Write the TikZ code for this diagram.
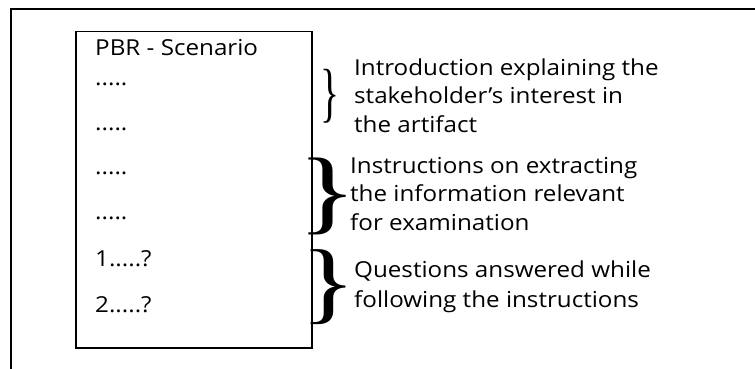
\documentclass[tikz,border=0pt]{standalone}
\usepackage{fontspec}
\setmainfont{Open Sans}[FakeStretch=1.1]
\newfontfamily\bracefont{Liberation Serif}
\tikzset{
  frameline/.style={line width=1.5pt},
  txt/.style={anchor=base west, inner sep=0pt, font=\fontsize{22}{28}\selectfont},
  brc/.style={inner sep=0pt, anchor=center}
}
\newcommand{\mybrace}[2]{\resizebox*{#1}{#2}{\bracefont\}}}
\begin{document}
\begin{tikzpicture}[x=1pt,y=1pt]
\useasboundingbox (0,-369) rectangle (755,0);
% outer frame (top and left)
\coordinate (fbl) at (11,-369);
\coordinate (ftl) at (11,-9);
\coordinate (ftr) at (755,-9);
\draw[frameline] (fbl) -- (ftl) -- (ftr);
% scenario box
\node[draw, line width=1.5pt, minimum width=236pt, minimum height=316pt, inner sep=0pt, anchor=north west] (box) at (75,-31) {};
\node[txt] (title) at (95,-56) {PBR - Scenario};
\node[txt] (d1) at (95,-85) {.....};
\node[txt] (d2) at (95,-130) {.....};
\node[txt] (d3) at (95,-174) {.....};
\node[txt] (d4) at (95,-219) {.....};
\node[txt] (q1) at (95,-266) {1.....?};
\node[txt] (q2) at (95,-312) {2.....?};
% braces
\node[brc] (b1) at (330,-96.5) {\mybrace{19pt}{54pt}};
\node[brc] (b2) at (328,-196) {\mybrace{60pt}{77pt}};
\node[brc] (b3) at (329,-287) {\mybrace{56pt}{75pt}};
% descriptions
\node[txt] (i1) at (354,-75) {Introduction explaining the};
\node[txt] (i2) at (354,-103.5) {stakeholder’s interest in};
\node[txt] (i3) at (354,-132) {the artifact};
\node[txt] (n1) at (350,-173) {Instructions on extracting};
\node[txt] (n2) at (350,-201.5) {the information relevant};
\node[txt] (n3) at (350,-230) {for examination};
\node[txt] (k1) at (354,-277) {Questions answered while};
\node[txt] (k2) at (354,-307) {following the instructions};
\end{tikzpicture}
\end{document}
